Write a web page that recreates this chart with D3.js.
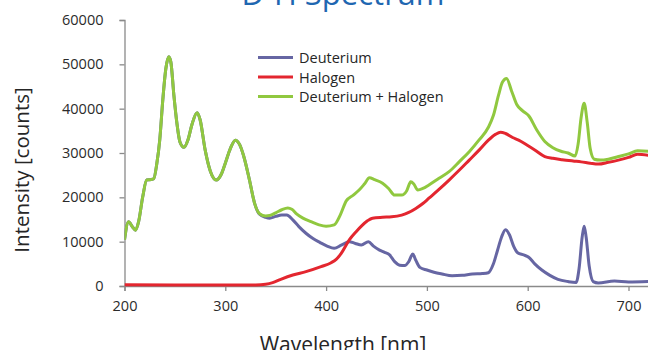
<!DOCTYPE html>
<html>
<head>
<meta charset="utf-8">
<script src="https://cdn.jsdelivr.net/npm/d3@7"></script>
<style>
  html, body { margin: 0; padding: 0; background: #fff; }
  svg { display: block; font-family: "Open Sans", "Noto Sans", sans-serif; }
</style>
</head>
<body>
<svg id="chart" width="648" height="350"></svg>
<script>
// Spectrum samples: wavelength (nm) and intensity (counts) for each lamp
const deuteriumNm = [200,204,208,211,214,218,222,226,229,232,235,238,241,244,246,249,252,255,259,263,267,272,275,280,285,291,296,300,305,310,314,318,324,329,334,340,344,350,356,361,367,373,380,387,394,401,408,415,423,429,435,442,447,453,458,463,468,473,478,482,486,489,493,500,507,515,525,535,545,555,561,566,570,574,578,582,586,590,596,601,607,614,622,630,640,648,651,654,656,658,661,665,670,686,700,720];
const deuteriumCounts = [10400,14500,13300,12600,14500,20000,23900,24000,24200,27500,33000,42000,49000,51700,50500,43000,36700,32500,31300,33000,36500,39100,37500,30700,26000,23900,25200,27700,31000,32900,32000,29500,23900,18700,16200,15500,15300,15700,16000,16000,14900,13400,11900,10700,9800,9000,8500,9200,10000,9600,9250,10000,9000,8100,7600,7000,5500,4700,4600,5500,7200,5800,4200,3600,3100,2700,2300,2400,2700,2800,3000,5000,8000,11000,12700,11500,9000,7500,7000,6500,5000,3600,2400,1500,1000,800,4000,11000,13500,11000,4500,1000,700,1100,900,1000];

const halogenNm = [200,250,300,330,340,347,355,367,380,395,405,410,415,423,430,435,441,446,456,465,475,482,489,496,502,512,522,532,542,552,561,568,573,578,585,591,600,607,617,625,634,645,653,662,670,680,690,700,709,720];
const halogenCounts = [300,250,200,250,400,750,1500,2480,3230,4350,5260,6000,7370,10400,12300,13500,14700,15300,15500,15600,16000,16600,17500,18600,19800,21800,23900,26100,28400,30700,32900,34200,34700,34400,33500,32900,31700,30700,29200,28800,28500,28200,28000,27700,27500,27900,28400,29000,29700,29500];

const comboNm = [200,204,208,211,214,218,222,226,229,232,235,238,241,244,246,249,252,255,259,263,267,272,275,280,285,291,296,300,305,310,314,318,324,329,334,340,344,350,356,362,366,371,377,385,393,400,408,414,420,427,433,438,443,448,456,462,468,475,480,484,487,491,496,502,512,522,532,542,552,561,566,571,575,579,584,589,595,601,609,617,625,633,640,647,650,653,656,659,662,666,672,680,690,700,709,720];
const comboCounts = [10400,14500,13300,12600,14500,20000,23900,24000,24200,27500,33000,42000,49000,51700,50500,43000,36700,32500,31300,33000,36500,39100,37500,30700,26000,23900,25200,27700,31000,32900,32000,29500,23900,18700,16300,15800,15900,16500,17200,17600,17300,16200,15300,14500,13800,13500,13800,16000,19200,20500,21700,23000,24400,24000,23200,22000,20500,20500,21500,23500,23000,21650,22000,22800,24300,25800,28000,30300,33000,35800,38500,43000,46000,46800,44000,41000,39500,38400,35200,32600,31200,30400,30000,29300,32000,38000,41200,37000,31000,28600,28400,28600,29200,29800,30500,30400];

const seriesNames = ["Deuterium", "Halogen", "Deuterium + Halogen"];
const seriesColors = ["#6666a3", "#e3262f", "#90c83f"];
const xTicks = [200, 300, 400, 500, 600, 700];
const yTicks = [0, 10000, 20000, 30000, 40000, 50000, 60000];

const series = [
  { name: seriesNames[0], color: seriesColors[0], nm: deuteriumNm, counts: deuteriumCounts },
  { name: seriesNames[1], color: seriesColors[1], nm: halogenNm, counts: halogenCounts },
  { name: seriesNames[2], color: seriesColors[2], nm: comboNm, counts: comboCounts }
];

const svg = d3.select("#chart");
const plotLeft = 124.5, plotTop = 20, plotBottom = 286;

const x = d3.scaleLinear().domain([200, 800]).range([plotLeft, plotLeft + 6 * 100.8]);
const y = d3.scaleLinear().domain([0, 60000]).range([plotBottom, plotTop]);

// Title (sits partly above the visible area)
svg.append("text")
  .attr("x", 343).attr("y", 5)
  .attr("text-anchor", "middle")
  .attr("font-size", 31)
  .attr("fill", "#1f67b1")
  .text("D-H Spectrum");

// Axes
const axisColor = "#8a8a8a";
const yAxis = svg.append("g")
  .attr("transform", `translate(${plotLeft},0)`)
  .call(d3.axisLeft(y).tickValues(yTicks).tickSize(5).tickPadding(16).tickFormat(d3.format("d")));
const xAxis = svg.append("g")
  .attr("transform", `translate(0,${plotBottom})`)
  .call(d3.axisBottom(x).tickValues(xTicks).tickSize(5).tickPadding(10).tickFormat(d3.format("d")));

[xAxis, yAxis].forEach(g => {
  g.select(".domain").attr("stroke", axisColor).attr("stroke-width", 1.3);
  g.selectAll(".tick line").attr("stroke", axisColor).attr("stroke-width", 1.3);
  g.selectAll(".tick text").attr("font-size", 14.5).attr("fill", "#2b2b2b")
    .attr("font-family", "'Open Sans', 'Noto Sans', sans-serif");
});

// Axis titles
svg.append("text")
  .attr("transform", "translate(29,170) rotate(-90)")
  .attr("text-anchor", "middle")
  .attr("font-size", 20.5)
  .attr("fill", "#262626")
  .text("Intensity [counts]");
svg.append("text")
  .attr("x", 343).attr("y", 352)
  .attr("text-anchor", "middle")
  .attr("font-size", 21)
  .attr("fill", "#262626")
  .text("Wavelength [nm]");

// Spectra
const line = d3.line()
  .x(d => x(d[0]))
  .y(d => y(d[1]))
  .curve(d3.curveMonotoneX);

svg.append("defs").append("clipPath").attr("id", "plotClip")
  .append("rect").attr("x", plotLeft).attr("y", 0).attr("width", 700).attr("height", plotBottom + 2);

svg.append("g").attr("clip-path", "url(#plotClip)")
  .selectAll("path")
  .data(series)
  .join("path")
  .attr("d", s => line(s.nm.map((v, i) => [v, s.counts[i]])))
  .attr("fill", "none")
  .attr("stroke", s => s.color)
  .attr("stroke-width", 3)
  .attr("stroke-linejoin", "round");

// Legend
const legend = svg.append("g").attr("transform", "translate(258,57.5)");
const rows = legend.selectAll("g").data(series).join("g")
  .attr("transform", (d, i) => `translate(0,${i * 19.5})`);
rows.append("line")
  .attr("x1", 0).attr("x2", 35)
  .attr("stroke", d => d.color).attr("stroke-width", 3);
rows.append("text")
  .attr("x", 41).attr("y", 5.5)
  .attr("font-size", 14.5)
  .attr("fill", "#262626")
  .text(d => d.name);
</script>
</body>
</html>
